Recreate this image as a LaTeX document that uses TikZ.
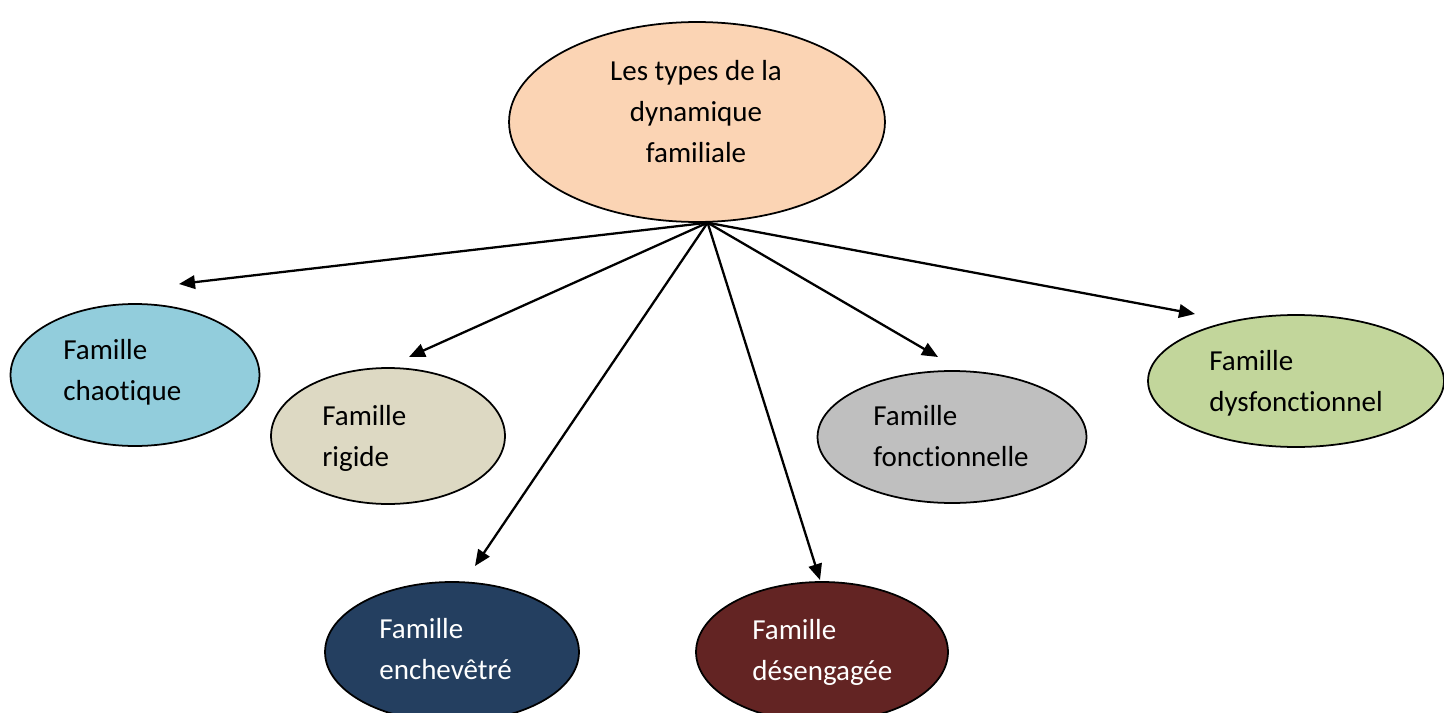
\documentclass[tikz,border=0pt]{standalone}
\usepackage{fontspec}
\setmainfont{Carlito}[Ligatures=NoCommon]
\usetikzlibrary{arrows.meta,shapes.geometric,positioning}
\definecolor{peche}{HTML}{FBD4B4}
\definecolor{bleuclair}{HTML}{92CDDC}
\definecolor{beige}{HTML}{DDD9C3}
\definecolor{marine}{HTML}{243F60}
\definecolor{bordeaux}{HTML}{632423}
\definecolor{gris}{HTML}{BFBFBF}
\definecolor{vert}{HTML}{C2D69B}

\begin{document}
\begin{tikzpicture}[x=0.02cm,y=-0.02cm]
\tikzstyle{famille}=[ellipse,draw,line width=1pt,inner sep=0pt]
\tikzstyle{texte}=[anchor=base west,align=left,inner sep=0pt,font=\fontsize{16.5}{23.3}\selectfont]
\tikzstyle{fleche}=[line width=1.3pt,-{Triangle[length=0.32cm,width=0.27cm]}]
\useasboundingbox (0,0) rectangle (1444,713);
\node[famille,fill=peche,minimum width=7.52cm,minimum height=4cm] (types) at (697,122) {};
\node[famille,fill=bleuclair,minimum width=4.98cm,minimum height=2.84cm] (chaotique) at (135,375) {};
\node[famille,fill=beige,minimum width=4.68cm,minimum height=2.72cm] (rigide) at (388,436) {};
\node[famille,fill=marine,minimum width=5.08cm,minimum height=2.8cm] (enchevetre) at (452,652) {};
\node[famille,fill=bordeaux,minimum width=5.04cm,minimum height=2.8cm] (desengagee) at (822,652) {};
\node[famille,fill=gris,minimum width=5.38cm,minimum height=2.64cm] (fonctionnelle) at (952,437) {};
\node[famille,fill=vert,minimum width=5.92cm,minimum height=2.64cm] (dysfonctionnel) at (1296,381) {};

\node[texte,anchor=base,align=center] (types-t) at (696,162) {Les types de la\\dynamique\\familiale};
\node[texte] (chaotique-t) at (63,400) {Famille\\chaotique};
\node[texte] (rigide-t) at (322,466) {Famille\\rigide};
\node[texte,text=white] (enchevetre-t) at (379,679) {Famille\\enchevêtré};
\node[texte,text=white] (desengagee-t) at (752,680) {Famille\\désengagée};
\node[texte] (fonctionnelle-t) at (873,466) {Famille\\fonctionnelle};
\node[texte] (dysfonctionnel-t) at (1209,411) {Famille\\dysfonctionnel};

\coordinate (hub) at (types.-84);
\coordinate (vers-chaotique) at (179,284);
\coordinate (vers-rigide) at (409,357);
\coordinate (vers-enchevetre) at (475,566);
\coordinate (vers-desengagee) at (820,580);
\coordinate (vers-fonctionnelle) at (938,357);
\coordinate (vers-dysfonctionnel) at (1195,314);
\draw[fleche] (hub) -- (vers-chaotique);
\draw[fleche] (hub) -- (vers-rigide);
\draw[fleche] (hub) -- (vers-enchevetre);
\draw[fleche] (hub) -- (vers-desengagee);
\draw[fleche] (hub) -- (vers-fonctionnelle);
\draw[fleche] (hub) -- (vers-dysfonctionnel);
\end{tikzpicture}
\end{document}
